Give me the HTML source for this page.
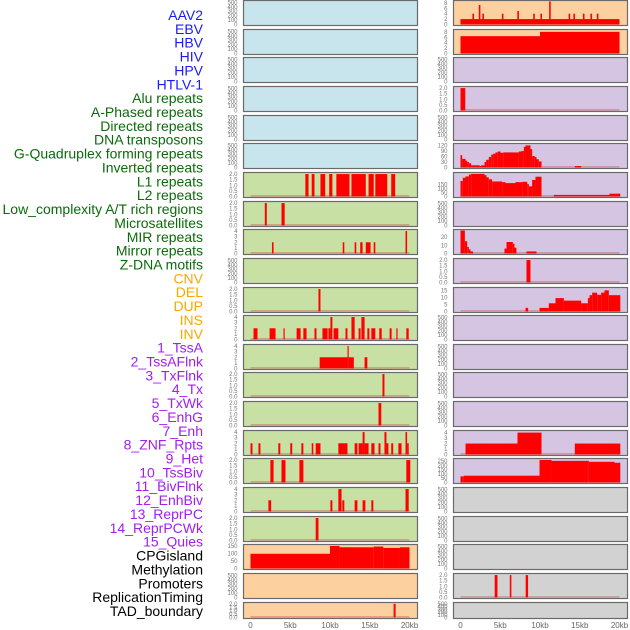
<!DOCTYPE html>
<html><head><meta charset="utf-8">
<style>
html,body{margin:0;padding:0;background:#fff;}
svg{display:block;font-family:"Liberation Sans",sans-serif;}
</style></head>
<body>
<svg id="chart" width="630" height="630" viewBox="0 0 630 630"></svg>
<script>
const labelNames = ["AAV2","EBV","HBV","HIV","HPV","HTLV-1","Alu repeats","A-Phased repeats","Directed repeats","DNA transposons","G-Quadruplex forming repeats","Inverted repeats","L1 repeats","L2 repeats","Low_complexity A/T rich regions","Microsatellites","MIR repeats","Mirror repeats","Z-DNA motifs","CNV","DEL","DUP","INS","INV","1_TssA","2_TssAFlnk","3_TxFlnk","4_Tx","5_TxWk","6_EnhG","7_Enh","8_ZNF_Rpts","9_Het","10_TssBiv","11_BivFlnk","12_EnhBiv","13_ReprPC","14_ReprPCWk","15_Quies","CPGisland","Methylation","Promoters","ReplicationTiming","TAD_boundary"];
const labelGroups = ["v","v","v","v","v","v","r","r","r","r","r","r","r","r","r","r","r","r","r","s","s","s","s","s","c","c","c","c","c","c","c","c","c","c","c","c","c","c","c","o","o","o","o","o"];
const xTicks = [0,5,10,15,20];
const xTickLabels = ["0","5kb","10kb","15kb","20kb"];
const E = [];
const T500 = [0,100,200,300,400,500];
const T2 = [0,0.5,1,1.5,2];
const T4 = [0,1,2,3,4];
// bars: [startKb, endKb, value]
const panelBars = [
 E,E,E,E,E,E,
 [[6.9,7.3,2],[7.7,8.05,2],[8.8,9.4,2],[9.9,10.3,2],[10.8,12.45,2],[12.7,14.5,2],[14.85,15.5,2],[15.7,17.2,2],[17.7,18.2,2]],
 [[1.8,2.05,2],[3.9,4.3,2]],
 [[2.7,2.9,2],[11.6,11.8,2],[13.1,13.3,2],[13.8,14.1,2],[14.5,15.1,2],[15.5,15.7,2],[19.5,19.7,4]],
 E,
 [[8.55,8.8,2]],
 [[0.38,0.88,2],[2.4,3.15,2],[4.15,4.3,2],[5.8,6.3,2],[6.65,7.05,2],[8.05,8.3,2],[9.05,9.7,2],[9.8,10.05,2],[10.05,10.3,4],[10.45,11.05,2],[11.95,12.2,2],[12.7,13.1,4],[13.6,13.85,2],[13.95,14.35,4],[14.7,14.95,2],[15.2,15.7,2],[16.2,16.5,2],[17.5,17.75,2],[18.35,18.5,2],[19.6,19.9,2]],
 [[8.7,12.2,2],[12.2,12.35,4],[12.35,13.0,2],[14.35,14.7,2]],
 [[16.6,16.85,2]],
 [[16.1,16.45,2]],
 [[0,0.25,2],[1.0,1.25,2],[3.5,3.75,2],[5.0,5.25,2],[6.4,6.65,2],[7.7,7.9,2],[8.2,8.8,2],[11.05,12.2,2],[13.1,13.45,2],[13.6,14.1,2],[14.1,14.35,4],[14.35,14.85,2],[15.2,15.6,2],[16.1,16.35,2],[16.85,17.1,4],[17.1,17.35,2],[17.7,17.95,2],[18.6,19.0,2],[19.5,19.7,4],[19.7,19.9,2]],
 [[2.5,2.9,2],[3.9,4.4,2],[6.15,6.65,2],[19.6,20.1,2]],
 [[2.25,2.6,2],[10.05,10.3,2],[11.05,11.45,4],[11.55,11.8,2],[13.1,13.45,2],[14.1,14.45,2],[15.2,15.45,2],[19.5,19.9,4]],
 [[8.2,8.55,2]],
 [[0,10,98],[10,11.2,150],[11.2,15.5,141],[15.5,16.7,146],[16.7,18.8,137],[18.8,20,141]],
 E,
 [[18.0,18.25,2]],
 [[0,20,2],[1.5,1.7,4],[2.3,2.5,7.2],[2.75,2.95,4],[5.2,5.4,4],[7.15,7.35,5],[9.15,9.35,4],[10.05,10.25,4],[11.15,11.35,8.5],[13.6,13.8,4],[14.2,14.4,4],[15.4,15.6,4],[16.35,16.55,4],[17.15,17.35,4]],
 [[0,10,6.4],[10,20,8]],
 E,
 [[0,0.6,2]],
 E,
 [[0,0.21,67],[0.21,0.63,47],[0.63,0.84,37],[0.84,1.05,30],[1.05,1.34,23],[1.34,2.43,12],[2.43,2.6,8],[2.6,3.02,12],[3.02,3.23,30],[3.23,3.56,42],[3.56,3.86,57],[3.86,4.11,70],[4.11,4.4,75],[4.4,4.7,82],[4.7,5.03,87],[5.03,5.37,80],[5.37,7.34,82],[7.34,7.67,87],[7.67,7.97,90],[7.97,8.18,112],[8.18,8.8,120],[8.8,9.01,100],[9.01,9.35,62],[9.35,9.56,57],[9.56,9.85,45],[9.85,10.19,33],[14.38,15.18,8]],
 [[0,0.29,193],[0.29,0.63,233],[0.63,1.05,249],[1.05,1.34,272],[1.34,3.02,280],[3.02,3.27,264],[3.27,3.56,237],[3.56,3.98,213],[3.98,5.24,186],[5.24,5.66,178],[5.66,6.92,166],[6.92,7.76,178],[7.76,8.39,182],[8.39,8.6,154],[8.6,9.01,126],[9.01,9.43,205],[9.43,10.19,245],[11.74,18.74,20],[18.74,20.1,35]],
 E,
 [[0,0.55,28],[0.55,0.84,15],[0.84,1.05,8],[1.05,1.26,5],[1.26,1.59,2.5],[5.53,5.79,6],[5.79,6.58,14],[6.58,6.79,12],[6.79,7.04,7],[8.3,9.56,2.5]],
 [[8.3,8.8,2]],
 [[8.18,8.51,2.6],[9.94,11.11,2.6],[11.11,11.95,5.9],[11.95,13.0,9.6],[13.0,15.18,7.8],[15.18,16.02,5.9],[16.02,16.23,9.6],[16.23,16.56,11.7],[16.56,17.19,13.5],[17.19,17.69,12],[17.69,18.11,13.5],[18.11,18.66,15.2],[18.66,20.1,11.7]],
 E,E,E,E,
 [[0.63,7.17,2],[7.17,10.19,4],[14.38,20.1,2]],
 [[0,0.42,72],[0.42,9.94,80],[9.94,11.45,265],[11.45,16.14,254],[16.14,19.37,243],[19.37,20.1,232]],
 E,E,E,
 [[4.3,4.65,2],[6.2,6.4,2],[8.2,8.5,2]],
 E
];
const panelYmax = [520,520,520,520,520,520, 2.05,2.05,4.1,520,2.05,4.1,4.1,2.05,2.05,4.1,2.05,4.1,2.05,153,520,2.05,
 8.5,8.5,520,2.05,520,125,285,520,28,2.05,16.5,520,520,520,520,4.2,270,520,520,520,2.05,520];
const panelTicks = [T500,T500,T500,T500,T500,T500, T2,T2,T4,T500,T2,T4,T4,T2,T2,T4,T2,T4,T2,[0,50,100,150],T500,T2,
 [0,2,4,6,8],[0,2,4,6,8],T500,T2,T500,[0,30,60,90,120],[0,50,100,150],T500,[0,10,20],T2,[0,5,10,15],T500,T500,T500,T500,T4,[0,50,100,150,200,250],T500,T500,T500,T2,T500];
const panelBaseline = [0,0,0,0,0,0, 1,1,1,0,1,1,1,1,1,1,1,1,1,0,0,1, 0,0,0,1,0,1,1,0,1,1,1,0,0,0,0,1,0,0,0,0,1,0];

const NS="http://www.w3.org/2000/svg";
const svg=document.getElementById('chart');
function mk(tag,attrs,parent){const e=document.createElementNS(NS,tag);for(const k in attrs)e.setAttribute(k,attrs[k]);(parent||svg).appendChild(e);return e;}
const groupColor={v:"#1a1aff",r:"#0b6b0b",s:"#ffa500",c:"#a020f0",o:"#000000"};
const bgColor={v:"#c8e4ec",r:"#c8e0a4",s:"#fdd0a0",c:"#d5c5e2",o:"#d2d2d2"};

// label list
labelNames.forEach((n,i)=>{
  const t=mk('text',{x:203,y:(20+i*13.86).toFixed(1),'text-anchor':'end','font-size':'14',fill:groupColor[labelGroups[i]]});
  t.textContent=n;
  
  
});

const colX=[243,453], PW=174;
function fmt(v,ticks){return ticks===T2?v.toFixed(1):String(v);}
panelBars.forEach((bars,idx)=>{
  const col=idx<22?0:1, row=idx%22;
  const top=Math.round(row*28.65)+0.5;
  const h=row===21?16:25;
  const x0=colX[col]+0.5;
  const g=mk('g',{});
  
  
  mk('rect',{x:x0,y:top,width:PW,height:h,fill:bgColor[labelGroups[idx]],stroke:'#6a6a6a','stroke-width':1.2},g);
  const bottom=top+h-1, ymax=panelYmax[idx];
  const xs=kb=>x0+7+kb*7.95;
  const ys=v=>bottom-v/ymax*(h-2);
  if(panelBaseline[idx]){
    const b=mk('rect',{x:xs(0),y:bottom-1.2,width:xs(20)-xs(0),height:1.2,fill:'#c0504a',opacity:0.55},g);
    
    
  }
  bars.forEach(d=>{
    const r=mk('rect',{x:xs(d[0]).toFixed(2),y:ys(d[2]).toFixed(2),width:Math.max(1,xs(d[1])-xs(d[0])).toFixed(2),height:(bottom-ys(d[2])).toFixed(2),fill:'#ff0000'},g);
    
    
  });
  panelTicks[idx].forEach(v=>{
    const t=mk('text',{x:x0-6,y:(ys(v)+2).toFixed(1),'text-anchor':'end','font-size':'6',fill:'#777'},g);
    t.textContent=fmt(v,panelTicks[idx]);
    
    
  });
  if(row===21){
    xTicks.forEach((k,i)=>{
      const t=mk('text',{x:xs(k).toFixed(1),y:628,'text-anchor':'middle','font-size':'8',fill:'#666'});
      t.textContent=xTickLabels[i];
      
      
    });
  }
});
</script>
</body></html>
